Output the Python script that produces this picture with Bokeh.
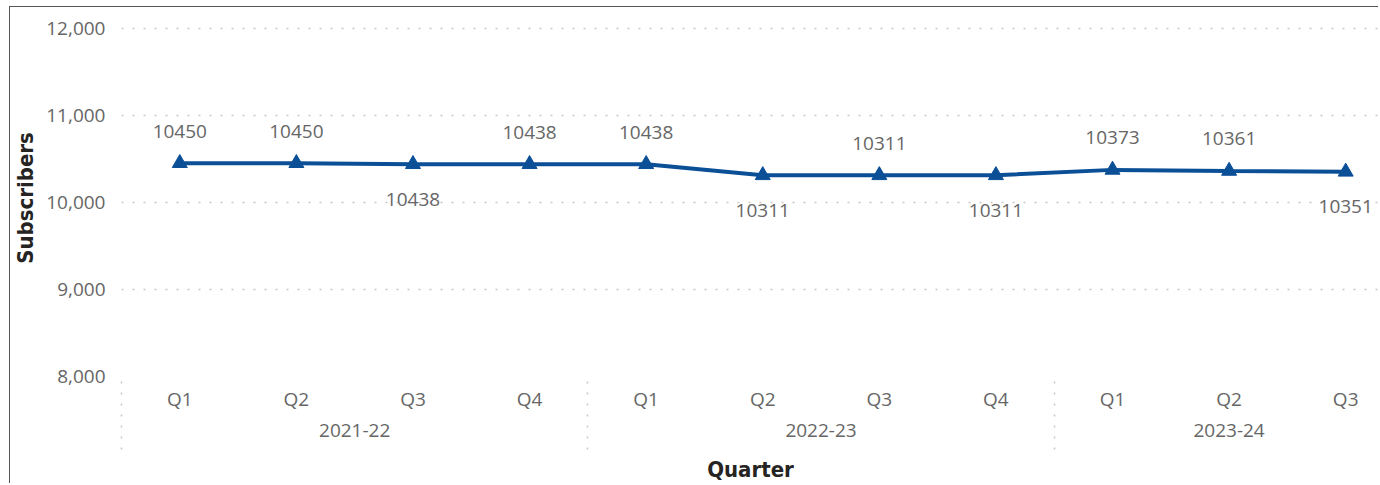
from bokeh.plotting import figure
from bokeh.models import (ColumnDataSource, Range1d, FixedTicker, LinearAxis,
                          NumeralTickFormatter)
from bokeh.core.properties import value
from bokeh.embed import file_html
from bokeh.resources import INLINE

# ---- data ----
quarters = ["Q1", "Q2", "Q3", "Q4", "Q1", "Q2", "Q3", "Q4", "Q1", "Q2", "Q3"]
fiscal_years = ["2021-22", "2021-22", "2021-22", "2021-22",
                "2022-23", "2022-23", "2022-23", "2022-23",
                "2023-24", "2023-24", "2023-24"]
subscribers = [10450, 10450, 10438, 10438, 10438, 10311, 10311, 10311, 10373, 10361, 10351]
y_ticks = [8000, 9000, 10000, 11000, 12000]
y_title = "Subscribers"
x_title = "Quarter"

# label placement (style): above / below the point
label_side = ["above", "above", "below", "above", "above", "below",
              "above", "below", "above", "above", "below"]

# ---- derived ----
xs = list(range(len(quarters)))
groups = []
for i, fy in enumerate(fiscal_years):
    if not groups or groups[-1][0] != fy:
        groups.append([fy, i, i])
    else:
        groups[-1][2] = i
group_centers = [(g[1] + g[2]) / 2 for g in groups]
group_bounds = [g[1] - 0.5 for g in groups]

offsets = [-32 if s == "above" else 35 for s in label_side]
src = ColumnDataSource(dict(x=xs, y=subscribers, lbl=[str(v) for v in subscribers], off=offsets))

TICK_FONT = "Open Sans"
TICK_COLOR = "#666666"
TITLE_FONT = "DejaVu Sans Condensed"
TITLE_COLOR = "#252423"
LINE_COLOR = "#0b4f97"
SEP_OUT = 73

p = figure(width=1369, height=477, output_backend="svg", toolbar_location=None,
           x_range=Range1d(-0.5, 10.29), y_range=Range1d(8000, 12100),
           min_border_left=111, min_border_right=0, min_border_top=12,
           min_border_bottom=107, x_axis_type=None)
p.outline_line_color = None
p.background_fill_color = "white"
p.border_fill_color = "white"
p.styles = {"margin-left": "9px", "margin-top": "6px",
            "border-top": "1.5px solid #555555", "border-left": "1.5px solid #555555"}

# y axis
yax = p.yaxis[0]
yax.ticker = FixedTicker(ticks=y_ticks)
yax.formatter = NumeralTickFormatter(format="0,0")
yax.axis_line_color = None
yax.major_tick_line_color = None
yax.minor_tick_line_color = None
yax.major_label_text_font = TICK_FONT
yax.major_label_text_font_size = "19px"
yax.major_label_text_color = TICK_COLOR
yax.major_label_standoff = 10
yax.axis_label = y_title
yax.axis_label_text_font = TITLE_FONT
yax.axis_label_text_font_style = "bold"
yax.axis_label_text_font_size = "22px"
yax.axis_label_text_color = TITLE_COLOR
yax.axis_label_standoff = 5

p.xgrid.visible = False
p.ygrid.grid_line_color = "#c8c8c8"
p.ygrid.grid_line_dash = "2 9"
p.ygrid.grid_line_width = 1.5
p.ygrid.ticker = FixedTicker(ticks=y_ticks)

# x axis: quarters (minor ticks used as dotted group separators)
qax = LinearAxis(ticker=FixedTicker(ticks=xs, minor_ticks=group_bounds),
                 major_label_overrides={i: q for i, q in zip(xs, quarters)})
qax.axis_line_color = None
qax.major_tick_line_color = None
qax.major_tick_out = 0
qax.major_tick_in = 0
qax.minor_tick_in = 0
qax.minor_tick_out = SEP_OUT
qax.minor_tick_line_color = "#c8c8c8"
qax.minor_tick_line_dash = "2 9"
qax.minor_tick_line_width = 1.5
qax.major_label_text_font = TICK_FONT
qax.major_label_text_font_size = "19px"
qax.major_label_text_color = TICK_COLOR
qax.major_label_standoff = 9 - SEP_OUT
p.add_layout(qax, "below")

# x axis: fiscal years
gax = LinearAxis(ticker=FixedTicker(ticks=group_centers, minor_ticks=[]),
                 major_label_overrides={c: g[0] for c, g in zip(group_centers, groups)})
gax.axis_line_color = None
gax.major_tick_line_color = None
gax.major_tick_out = 0
gax.major_tick_in = 0
gax.minor_tick_line_color = None
gax.major_label_text_font = TICK_FONT
gax.major_label_text_font_size = "19px"
gax.major_label_text_color = TICK_COLOR
gax.major_label_standoff = 9
gax.axis_label = x_title
gax.axis_label_text_font = TITLE_FONT
gax.axis_label_text_font_style = "bold"
gax.axis_label_text_font_size = "22px"
gax.axis_label_text_color = TITLE_COLOR
gax.axis_label_standoff = 17
p.add_layout(gax, "below")

# line + markers
p.line("x", "y", source=src, line_color=LINE_COLOR, line_width=4)
p.scatter("x", "y", source=src, marker="triangle", size=15,
          fill_color=LINE_COLOR, line_color=LINE_COLOR)
p.text("x", "y", text="lbl", source=src, y_offset="off",
       text_align="center", text_baseline="middle",
       text_font=value(TICK_FONT), text_font_size="19px", text_color=TICK_COLOR)

open("out.html", "w").write(file_html(p, INLINE))
